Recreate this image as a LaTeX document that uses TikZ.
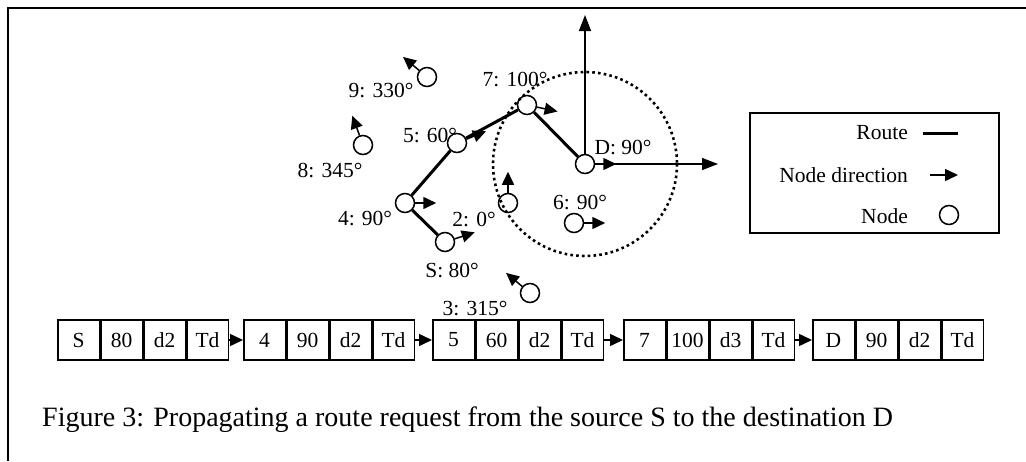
\documentclass[tikz,border=0pt]{standalone}
\usepackage{fontspec}
\setmainfont{Liberation Serif}
\usetikzlibrary{arrows.meta}
\begin{document}
\begin{tikzpicture}[x=1pt,y=-1pt,
  nd/.style={circle,draw,line width=1.5pt,minimum size=19pt,inner sep=0pt},
  lbl/.style={font=\fontsize{21.5}{24}\selectfont,inner sep=0pt},
  dir/.style={line width=1.5pt,-{Triangle[length=13pt,width=12pt]}},
  route/.style={line width=3pt},
  axis/.style={line width=1.5pt,-{Triangle[length=16pt,width=12pt]}},
  cell/.style={draw,line width=1.5pt,minimum width=41.5pt,minimum height=40pt,inner sep=0pt,font=\fontsize{21.5}{24}\selectfont},
]
\useasboundingbox (0,0) rectangle (1026,461);
% frame
\coordinate (fr1) at (1026,8);
\coordinate (fr2) at (8,8);
\coordinate (fr3) at (8,461);
\draw[line width=2pt] (fr1) -- (fr2) -- (fr3);

% nodes
\node[nd] (S) at (445,242) {};
\node[nd] (n4) at (405,203) {};
\node[nd] (n5) at (457,143) {};
\node[nd] (n7) at (527,105) {};
\node[nd] (D) at (585,164) {};
\node[nd] (n2) at (508,203) {};
\node[nd] (n6) at (574,223) {};
\node[nd] (n3) at (530,293) {};
\node[nd] (n8) at (363,145) {};
\node[nd] (n9) at (427,77) {};

% dotted range circle
\draw[line width=2.6pt,dash pattern=on 2.6pt off 3.2pt] (D) circle[radius=92];

% axes
\coordinate (axT) at (585,15);
\coordinate (axR) at (718,164);
\draw[axis] (D.north) -- (axT);
\draw[axis] (D.east) -- (axR);

% route
\draw[route] (S) -- (n4);
\draw[route] (n4) -- (n5);
\draw[route] (n5) -- (n7);
\draw[route] (n7) -- (D);

% direction arrows
\foreach \n/\a in {S/18, n4/0, n5/22, n7/-12, D/0, n2/90, n6/0, n3/140, n8/110, n9/140}
  \draw[dir] (\n.\a) -- ++(\a:21pt);

% labels
\node[lbl] (l9) at (381,90) {9: 330°};
\node[lbl] (l8) at (330,170) {8: 345°};
\node[lbl] (l5) at (430,135) {5: 60°};
\node[lbl] (l7) at (515,80) {7: 100°};
\node[lbl] (lD) at (623,147) {D: 90°};
\node[lbl] (l4) at (365,218) {4: 90°};
\node[lbl] (l2) at (474,219) {2: 0°};
\node[lbl] (l6) at (580,202) {6: 90°};
\node[lbl] (lS) at (452,270) {S: 80°};
\node[lbl] (l3) at (475,308) {3: 315°};

% legend
\node[draw,line width=1.5pt,minimum width=249pt,minimum height=120pt,inner sep=0pt] (leg) at (874.5,173) {};
\node[lbl,anchor=east] (lr) at (908,133) {Route};
\node[lbl,anchor=east] (ld) at (908,175) {Node direction};
\node[lbl,anchor=east] (ln) at (908,216) {Node};
\coordinate (lr1) at (923,133);
\coordinate (lr2) at (958,133);
\draw[route] (lr1) -- (lr2);
\coordinate (ld1) at (930,175);
\coordinate (ld2) at (958,175);
\draw[dir] (ld1) -- (ld2);
\node[nd] (lnc) at (949,215) {};

% packets
\foreach \g/\x/\a/\b/\c/\d in {1/57/S/80/d2/Td, 2/243/4/90/d2/Td, 3/432/5/60/d2/Td, 4/623/7/100/d3/Td, 5/812/D/90/d2/Td} {
  \node[cell,anchor=west] (g\g a) at (\x,340) {\a};
  \node[cell,anchor=west] (g\g b) at (g\g a.east) {\b};
  \node[cell,anchor=west] (g\g c) at (g\g b.east) {\c};
  \node[cell,anchor=west] (g\g d) at (g\g c.east) {\d};
}
\foreach \i/\j in {1/2,2/3,3/4,4/5}
  \draw[dir] (g\i d.east) -- (g\j a.west);

% caption
\node[font=\fontsize{28}{31}\selectfont,anchor=west,inner sep=0pt] (cap) at (42,420) {Figure 3: Propagating a route request from the source S to the destination D};
\end{tikzpicture}
\end{document}
